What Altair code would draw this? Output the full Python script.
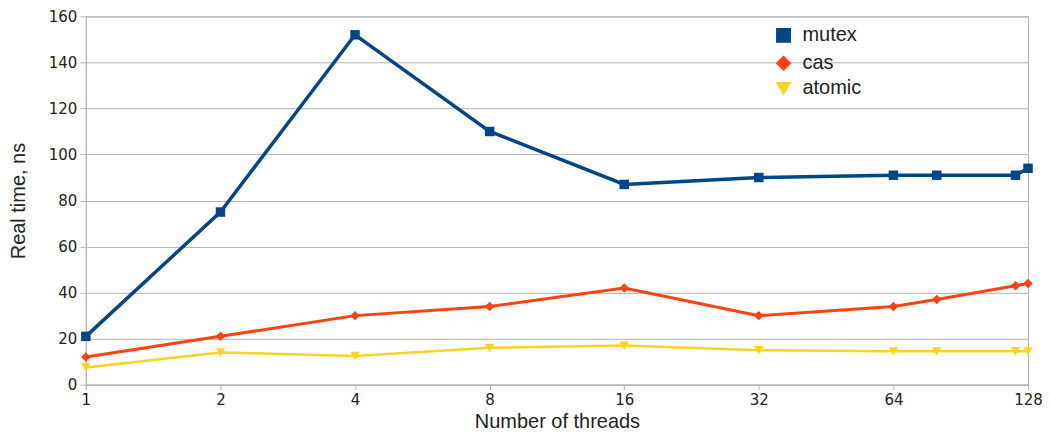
import altair as alt
import pandas as pd

threads = [1, 2, 4, 8, 16, 32, 64, 80, 120, 128]
mutex = [21, 75, 152, 110, 87, 90, 91, 91, 91, 94]
cas = [12, 21, 30, 34, 42, 30, 34, 37, 43, 44]
atomic = [7.5, 14, 12.5, 16, 17, 15, 14.5, 14.5, 14.5, 14.5]
series = ["mutex", "cas", "atomic"]
colors = ["#004586", "#ff420e", "#ffd320"]
shapes = ["square", "diamond", "triangle-down"]
x_ticks = [1, 2, 4, 8, 16, 32, 64, 128]

rows = []
for name, vals in zip(series, [mutex, cas, atomic]):
    for t, v in zip(threads, vals):
        rows.append({"threads": t, "time": v, "series": name})
df = pd.DataFrame(rows)

x = alt.X("threads:Q", scale=alt.Scale(type="log", base=2, domain=[1, 128], nice=False),
          axis=alt.Axis(values=x_ticks, title="Number of threads", grid=False,
                        labelFont="DejaVu Sans", labelFontSize=15, labelColor="#222",
                        titleFont="Liberation Sans", titleFontSize=20, titleFontWeight="normal",
                        titleColor="#222", tickColor="#b3b3b3", tickSize=5, domainColor="#b3b3b3",
                        labelPadding=3, titlePadding=4, format="d", labelFlush=False))
y = alt.Y("time:Q", scale=alt.Scale(domain=[0, 160], nice=False),
          axis=alt.Axis(values=list(range(0, 161, 20)), title="Real time, ns",
                        labelFont="DejaVu Sans", labelFontSize=15, labelColor="#222",
                        titleFont="Liberation Sans", titleFontSize=20, titleFontWeight="normal",
                        titleColor="#222", tickColor="#b3b3b3", tickSize=6, domainColor="#b3b3b3",
                        gridColor="#b3b3b3", labelPadding=3, titlePadding=20, labelFlush=False))
legend = alt.Legend(title=None, orient="none", legendX=689, legendY=9,
                    labelFont="Liberation Sans", labelFontSize=20, labelOffset=9,
                    labelColor="#222", symbolSize=130, rowPadding=3)
color = alt.Color("series:N", scale=alt.Scale(domain=series, range=colors), legend=legend)
shape = alt.Shape("series:N", scale=alt.Scale(domain=series, range=shapes), legend=legend)
strokew = alt.StrokeWidth("series:N", scale=alt.Scale(domain=series, range=[3.5, 2.5, 2.5]), legend=None)

lines = alt.Chart(df).mark_line().encode(x=x, y=y, color=color, strokeWidth=strokew)
points = alt.Chart(df).mark_point(filled=True, opacity=1, size=90).encode(x=x, y=y, color=color, shape=shape)

chart = alt.layer(lines, points).properties(
    width=944, height=369,
    autosize=alt.AutoSizeParams(type="none"),
    padding={"left": 78, "top": 8, "right": 14, "bottom": 48},
).configure_view(stroke="#b3b3b3", strokeWidth=1)

chart.save("out.html", embed_options={"renderer": "svg", "actions": False})
